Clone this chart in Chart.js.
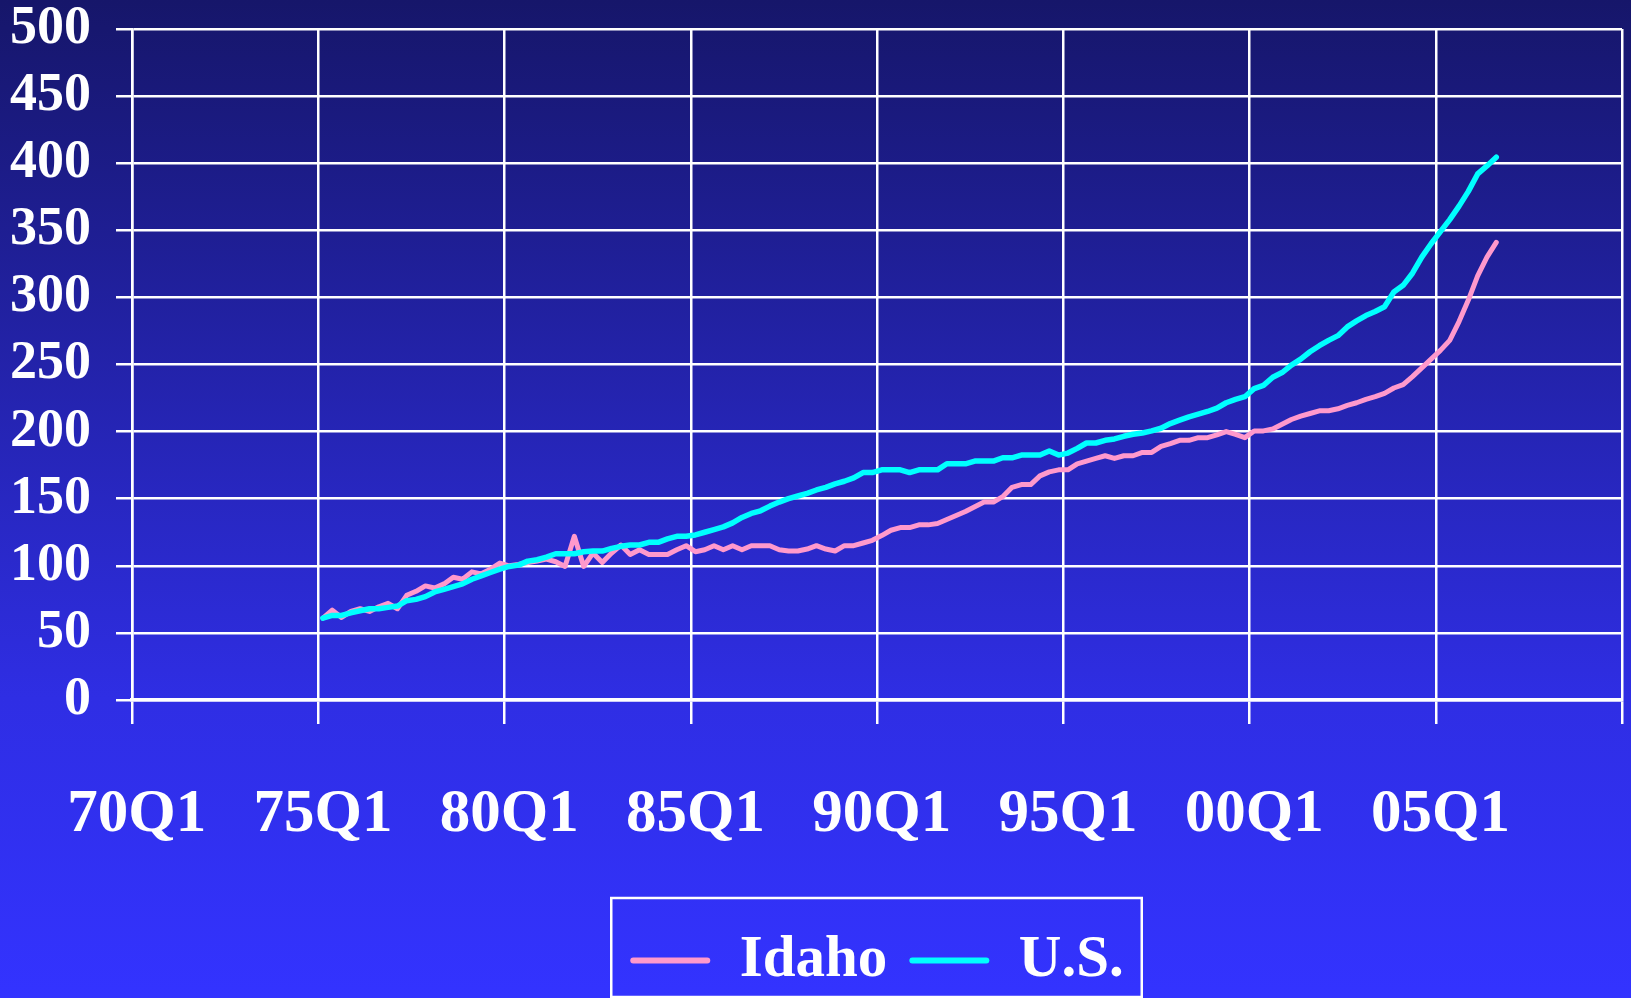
<!DOCTYPE html>
<html>
<head>
<meta charset="utf-8">
<script src="https://cdn.jsdelivr.net/npm/chart.js@4/dist/chart.umd.min.js"></script>
<style>
html,body{margin:0;padding:0;background:#3333FF;overflow:hidden}
canvas{display:block}
</style>
</head>
<body>
<canvas id="c" width="1631" height="998"></canvas>
<script>
// ---- categories (quarters 70Q1 .. 09Q4) ----
const firstYear = 1970, lastYear = 2009;
const quarters = [];
for (let y = firstYear; y <= lastYear; y++) {
  for (let q = 1; q <= 4; q++) quarters.push(String(y % 100).padStart(2, '0') + 'Q' + q);
}
const tickLabels = ['70Q1', '75Q1', '80Q1', '85Q1', '90Q1', '95Q1', '00Q1', '05Q1'];
const seriesStart = '75Q1';

// ---- series values (from 75Q1 onward, quarterly) ----
const idaho = [
  61, 67, 61.5, 66, 68, 66, 69.5, 72, 68, 78,
  81, 85, 83.5, 86.5, 91.5, 90, 95.5, 94, 97.5, 102,
  100, 101, 102.5, 103.5, 105, 103, 99.5, 122, 99.5, 109.5,
  102.5, 109.5, 115.5, 108.5, 112, 108.5, 108.5, 108.5, 112, 115,
  110.5, 112, 115, 112, 115, 112, 115, 115, 115, 112,
  111, 111, 112.5, 115, 112.5, 111, 115, 115, 117, 119,
  122.5, 126.5, 128.5, 128.5, 130.5, 130.5, 131.5, 134.5, 137.5, 140.5,
  144, 147.5, 147.5, 151.5, 158.5, 160.5, 160.5, 167, 170, 171.5,
  171.5, 176, 178, 180, 182, 180, 182, 182, 184.5, 184.5,
  189, 191, 193.5, 193.5, 195.5, 195.5, 197.5, 200, 198, 195.5,
  200.5, 200.5, 202, 205.5, 209, 211.5, 213.5, 215.5, 215.5, 217,
  219.5, 221.5, 224, 226, 228.5, 232.5, 235, 241, 247.5, 254,
  260.5, 268, 282, 298, 316, 330, 341
];
const us = [
  61, 63, 63, 65, 66.5, 68, 68, 69, 70, 74,
  75, 77, 80.5, 82.5, 84.5, 86.5, 90, 92.5, 95, 97.5,
  99.5, 100.5, 103.5, 104.5, 106.5, 109, 109, 109, 110.5, 111,
  111, 113, 114.5, 115.5, 115.5, 117.5, 117.5, 120, 122, 122,
  123, 125, 127, 129, 132, 136, 139, 141, 144.5, 147.5,
  150, 152, 154, 156.5, 158.5, 161, 163, 165.5, 169.5, 169.5,
  171.5, 171.5, 171.5, 169.5, 171.5, 171.5, 171.5, 176, 176, 176,
  178, 178, 178, 180.5, 180.5, 182.5, 182.5, 182.5, 185.5, 182.5,
  184, 187.5, 191.5, 191.5, 193.5, 194.5, 196.5, 198, 199, 200.5,
  202.5, 206, 208.5, 211, 213, 215, 217.5, 221.5, 224, 226,
  232, 234.5, 240.5, 244, 249.5, 254, 259.5, 264, 268, 271.5,
  278, 282.5, 286.5, 289.5, 293, 304, 309, 318, 330, 340,
  349, 358, 368, 379, 392, 398, 404.5
];
const seriesNames = ['Idaho', 'U.S.'];

// ---- build library data ----
const startIdx = quarters.indexOf(seriesStart);
function toPoints(arr) {
  return arr.map((v, i) => ({ x: quarters[startIdx + i], y: v }));
}

const WHITE = '#FFFFFF';
const FONT = '"Liberation Serif", "Times New Roman", serif';

const bgPlugin = {
  id: 'bg',
  beforeDraw(chart) {
    const { ctx, width, height } = chart;
    const g = ctx.createLinearGradient(0, 0, 0, height);
    g.addColorStop(0, '#16166A');
    g.addColorStop(0.7, '#2F2EE4');
    g.addColorStop(1, '#3333FF');
    ctx.save();
    ctx.fillStyle = g;
    ctx.fillRect(0, 0, width, height);
    ctx.restore();
  }
};

const legendBoxPlugin = {
  id: 'legendBox',
  afterDraw(chart) {
    const lg = chart.legend;
    if (!lg || !lg.legendHitBoxes || !lg.legendHitBoxes.length) return;
    const hb = lg.legendHitBoxes;
    const left = Math.min(...hb.map(h => h.left)) - 19;
    const right = Math.max(...hb.map(h => h.left + h.width)) + 18;
    const top = lg.top - 11;
    const bottom = chart.height - 1;
    const ctx = chart.ctx;
    ctx.save();
    ctx.strokeStyle = WHITE;
    ctx.lineWidth = 2.5;
    ctx.strokeRect(left, top, right - left, bottom - top);
    ctx.restore();
  }
};

function xGridColor(ctx) {
  if (ctx.type !== 'tick') return WHITE;
  return tickLabels.includes(quarters[ctx.index]) ? WHITE : 'rgba(0,0,0,0)';
}

new Chart(document.getElementById('c'), {
  type: 'line',
  data: {
    labels: quarters,
    datasets: [
      {
        label: seriesNames[0], data: toPoints(idaho),
        borderColor: '#FF99CC', backgroundColor: '#FF99CC',
        borderWidth: 5, pointRadius: 0, tension: 0,
        borderJoinStyle: 'round', borderCapStyle: 'round', order: 1
      },
      {
        label: seriesNames[1], data: toPoints(us),
        borderColor: '#00FFFF', backgroundColor: '#00FFFF',
        borderWidth: 5.5, pointRadius: 0, tension: 0,
        borderJoinStyle: 'round', borderCapStyle: 'round', order: 0
      }
    ]
  },
  options: {
    responsive: false,
    devicePixelRatio: 1,
    animation: false,
    layout: { padding: { top: 29, right: 9, left: 0, bottom: -2 } },
    plugins: {
      tooltip: { enabled: false },
      legend: {
        position: 'bottom',
        fullSize: false,
        labels: {
          color: WHITE,
          font: { family: FONT, size: 59, weight: 'bold' },
          boxWidth: 80, boxHeight: 6,
          useBorderRadius: true, borderRadius: 3,
          padding: 22,
          sort: (a, b) => a.datasetIndex - b.datasetIndex,
          generateLabels(chart) {
            return Chart.defaults.plugins.legend.labels.generateLabels(chart)
              .map(l => Object.assign(l, { lineWidth: 0 }));
          }
        }
      }
    },
    scales: {
      x: {
        type: 'category',
        offset: true,
        grid: {
          offset: true, color: xGridColor, lineWidth: 2.5,
          tickLength: 24, drawTicks: true, drawOnChartArea: true
        },
        border: { display: true, color: WHITE, width: 3.5 },
        ticks: {
          autoSkip: false, maxRotation: 0, minRotation: 0,
          color: WHITE, padding: 61,
          font: { family: FONT, size: 61, weight: 'bold', lineHeight: 1 },
          callback: (v, i) => tickLabels.includes(quarters[i]) ? quarters[i] : ''
        },
        afterFit(s) {
          s.height = 209;
          s.paddingLeft = 0; s.paddingRight = 0;
        }
      },
      y: {
        min: 0, max: 500,
        ticks: {
          stepSize: 50, color: WHITE, padding: 25,
          font: { family: FONT, size: 54, weight: 'bold', lineHeight: 1 }
        },
        grid: { color: WHITE, lineWidth: 2.5, tickLength: 16 },
        border: { display: true, color: WHITE, width: 2.5 },
        afterFit(s) {
          s.width = 132;
          s.paddingTop = 0; s.paddingBottom = 0;
        }
      }
    }
  },
  plugins: [bgPlugin, legendBoxPlugin]
});
</script>
</body>
</html>
